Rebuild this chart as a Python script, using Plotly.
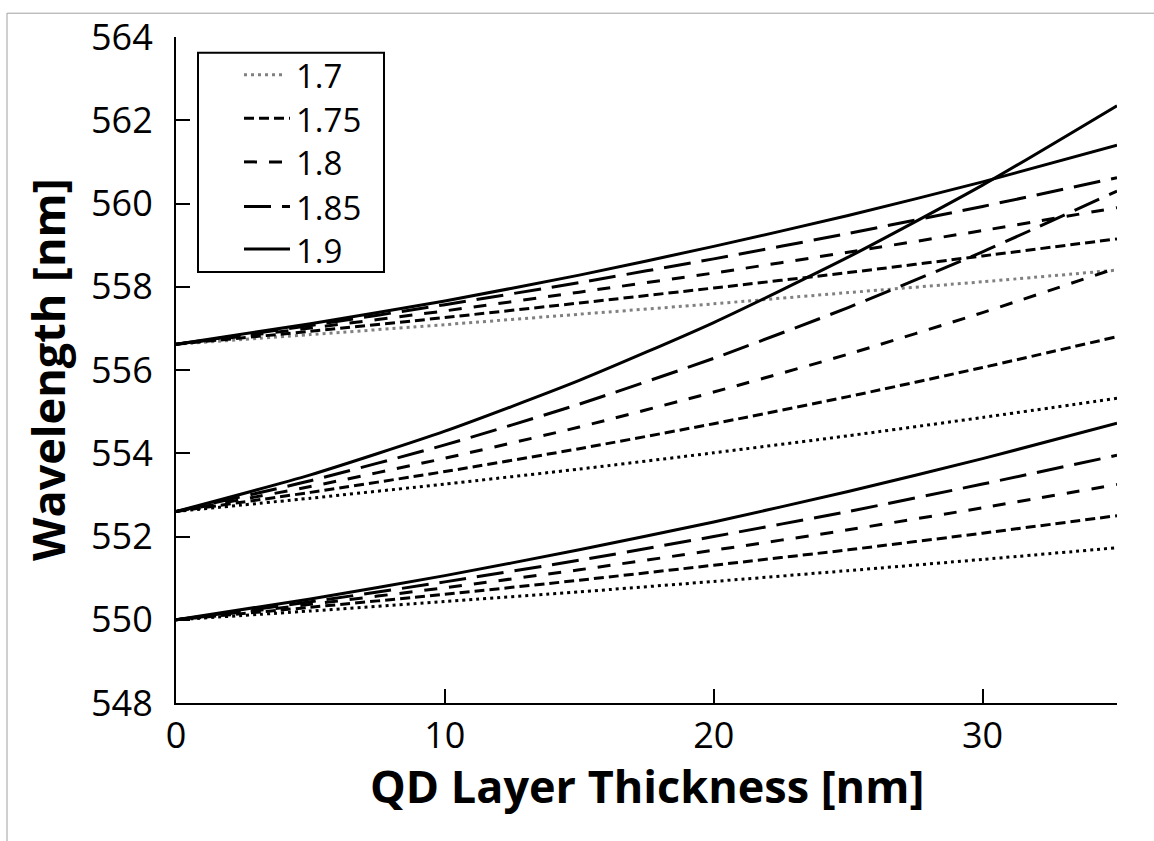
import plotly.graph_objects as go

# QD layer thickness sample points [nm]
thickness = [0, 5, 10, 15, 20, 25, 30, 35]

# Refractive index of the QD layer (legend labels)
indices = ["1.7", "1.75", "1.8", "1.85", "1.9"]

# Upper mode family (starts at ~556.6 nm)
upper_17 = [556.62, 556.85, 557.09, 557.34, 557.59, 557.86, 558.12, 558.40]
upper_175 = [556.62, 556.93, 557.26, 557.61, 557.97, 558.34, 558.74, 559.15]
upper_18 = [556.62, 557.01, 557.42, 557.87, 558.33, 558.83, 559.35, 559.90]
upper_185 = [556.62, 557.07, 557.57, 558.10, 558.67, 559.28, 559.93, 560.62]
upper_19 = [556.62, 557.11, 557.66, 558.28, 558.97, 559.71, 560.52, 561.40]

# Middle mode family (starts at ~552.6 nm)
middle_17 = [552.60, 552.92, 553.26, 553.62, 554.01, 554.42, 554.86, 555.32]
middle_175 = [552.60, 553.06, 553.56, 554.11, 554.71, 555.36, 556.06, 556.80]
middle_18 = [552.60, 553.20, 553.88, 554.63, 555.47, 556.38, 557.38, 558.45]
middle_185 = [552.60, 553.34, 554.20, 555.18, 556.28, 557.50, 558.84, 560.30]
middle_19 = [552.60, 553.48, 554.53, 555.75, 557.14, 558.71, 560.44, 562.35]

# Lower mode family (starts at 550 nm)
lower_17 = [550.00, 550.21, 550.44, 550.67, 550.92, 551.18, 551.45, 551.73]
lower_175 = [550.00, 550.30, 550.61, 550.95, 551.31, 551.68, 552.08, 552.50]
lower_18 = [550.00, 550.37, 550.77, 551.20, 551.67, 552.16, 552.69, 553.25]
lower_185 = [550.00, 550.43, 550.91, 551.43, 552.00, 552.60, 553.26, 553.95]
lower_19 = [550.00, 550.50, 551.06, 551.68, 552.35, 553.08, 553.87, 554.72]

y_ticks = [548, 550, 552, 554, 556, 558, 560, 562, 564]
x_ticks = [0, 10, 20, 30]

families = {
    "upper": [upper_17, upper_175, upper_18, upper_185, upper_19],
    "middle": [middle_17, middle_175, middle_18, middle_185, middle_19],
    "lower": [lower_17, lower_175, lower_18, lower_185, lower_19],
}

dashes = ["3px,4px", "10px,5px", "13px,12px", "27px,11px", "solid"]
LW = 3
GRAY = "#808080"

fig = go.Figure()
for fam, series in families.items():
    for i, ys in enumerate(series):
        color = GRAY if (fam == "upper" and i == 0) else "black"
        fig.add_trace(go.Scatter(
            x=thickness, y=ys, mode="lines", name=indices[i],
            line=dict(color=color, width=LW, dash=dashes[i], shape="spline", smoothing=0.6),
            showlegend=False,
        ))

font_family = "Open Sans, Liberation Sans, sans-serif"

# Plot-area geometry in pixels, used to place the legend box in paper coords
W, H = 1154, 841
ML, MR, MT, MB = 176, 37, 31, 138
PW, PH = W - ML - MR, H - MT - MB


def px_x(px):
    return (px - ML) / PW


def px_y(py):
    return (H - MB - py) / PH


shapes = [
    # thin grey frame around the whole figure
    dict(type="rect", xref="paper", yref="paper", x0=px_x(7), y0=px_y(860),
         x1=px_x(1170), y1=px_y(7), line=dict(color="#a0a0a0", width=1), layer="below"),
    # legend box
    dict(type="rect", xref="paper", yref="paper", x0=px_x(198), y0=px_y(268),
         x1=px_x(384), y1=px_y(47), line=dict(color="black", width=2),
         fillcolor="white", layer="above"),
]
annotations = []
row_y = [69, 113, 157, 202, 245]
for i, name in enumerate(indices):
    color = GRAY if i == 0 else "black"
    x_end = 284 if i == 0 else 290
    shapes.append(dict(
        type="line", xref="paper", yref="paper",
        x0=px_x(244), x1=px_x(x_end), y0=px_y(row_y[i]), y1=px_y(row_y[i]),
        line=dict(color=color, width=LW, dash=dashes[i]), layer="above",
    ))
    annotations.append(dict(
        text=name, xref="paper", yref="paper", x=px_x(294), y=px_y(row_y[i] + 1),
        xanchor="left", yanchor="middle", showarrow=False,
        font=dict(size=33, family=font_family, color="black"),
    ))

annotations += [
    dict(text="<b>QD Layer Thickness [nm]</b>", xref="paper", yref="paper",
         x=0.5, y=px_y(786), xanchor="center", yanchor="middle", showarrow=False,
         font=dict(size=45, family=font_family)),
    dict(text="<b>Wavelength [nm]</b>", xref="paper", yref="paper",
         x=px_x(47), y=0.5, xanchor="center", yanchor="middle", showarrow=False,
         textangle=-90, font=dict(size=45, family=font_family)),
]

fig.update_layout(
    width=W, height=H,
    margin=dict(l=ML, r=MR, t=MT, b=MB),
    paper_bgcolor="white", plot_bgcolor="white",
    font=dict(family=font_family, color="black"),
    showlegend=False,
    xaxis=dict(
        range=[0, 35], tickvals=x_ticks, ticks="inside", ticklen=14, tickwidth=2,
        tickcolor="black", showline=True, linecolor="black", linewidth=2,
        showgrid=False, zeroline=False, tickfont=dict(size=36), ticklabelstandoff=0,
    ),
    yaxis=dict(
        range=[548, 564], tickvals=y_ticks, ticks="inside", ticklen=14, tickwidth=2,
        tickcolor="black", showline=True, linecolor="black", linewidth=2,
        showgrid=False, zeroline=False, tickfont=dict(size=36), ticklabelstandoff=14,
    ),
    annotations=annotations,
    shapes=shapes,
)

fig.write_html("out.html")
